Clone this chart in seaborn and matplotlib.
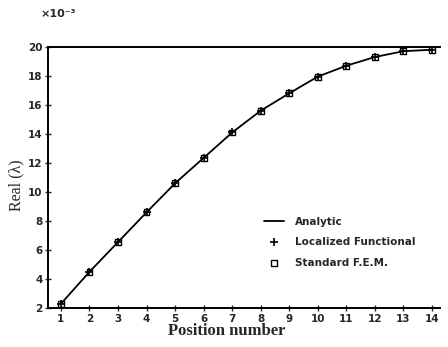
import matplotlib
matplotlib.use("Agg")
import matplotlib.pyplot as plt
import seaborn as sns
import pandas as pd

positions = [1, 2, 3, 4, 5, 6, 7, 8, 9, 10, 11, 12, 13, 14]
analytic = [2.3, 4.5, 6.55, 8.6, 10.6, 12.35, 14.1, 15.6, 16.8, 17.95, 18.7, 19.3, 19.7, 19.8]
localized = [2.3, 4.5, 6.55, 8.6, 10.6, 12.35, 14.1, 15.6, 16.8, 17.95, 18.7, 19.3, 19.7, 19.8]
standard_fem = [2.3, 4.5, 6.55, 8.6, 10.6, 12.35, 14.1, 15.6, 16.8, 17.95, 18.7, 19.3, 19.7, 19.8]
yticks = [2, 4, 6, 8, 10, 12, 14, 16, 18, 20]

sns.set_style("ticks")
plt.rcParams['font.family'] = ['DejaVu Sans']

df = pd.DataFrame({"pos": positions, "analytic": analytic,
                   "loc": localized, "fem": standard_fem})

fig = plt.figure(figsize=(4.48, 3.47), dpi=100)
ax = fig.add_axes([0.107, 0.112, 0.875, 0.753])

sns.lineplot(data=df, x="pos", y="analytic", ax=ax, color="black", lw=1.3, label="Analytic")
sns.scatterplot(data=df, x="pos", y="loc", ax=ax, marker="+", s=30, color="black",
                linewidth=1.2, label="Localized Functional", zorder=4)
sns.scatterplot(data=df, x="pos", y="fem", ax=ax, marker="s", s=18, facecolor="none",
                edgecolor="black", linewidth=1.0, label="Standard F.E.M.", zorder=3)

ax.set_xlim(0.545, 14.28)
ax.set_ylim(2, 20)
ax.set_xticks(positions)
ax.set_yticks(yticks)
ax.tick_params(axis="both", direction="inout", length=4, width=1, labelsize=7.5, pad=2)
for lab in ax.get_xticklabels() + ax.get_yticklabels():
    lab.set_fontweight("bold")

ax.set_xlabel("Position number", fontsize=12, fontweight="bold",
              family="Liberation Serif")
ax.xaxis.set_label_coords(0.455, -0.055)
ax.set_ylabel("Real (λ)", fontsize=11.5, family="Liberation Serif")
ax.yaxis.set_label_coords(-0.06, 0.47)

for side in ["left", "bottom", "top"]:
    ax.spines[side].set_linewidth(1.4)
    ax.spines[side].set_color("black")
ax.spines["right"].set_visible(False)

fig.text(0.09, 0.95, "×10⁻³", fontsize=8, fontweight="bold")

leg = ax.legend(loc="upper left", bbox_to_anchor=(0.55, 0.35), frameon=False,
                borderpad=0, borderaxespad=0,
                prop={"size": 7.5, "weight": "bold"}, handlelength=2.0,
                handletextpad=1.0, labelspacing=1.0)

fig.savefig("out.png", dpi=100)
